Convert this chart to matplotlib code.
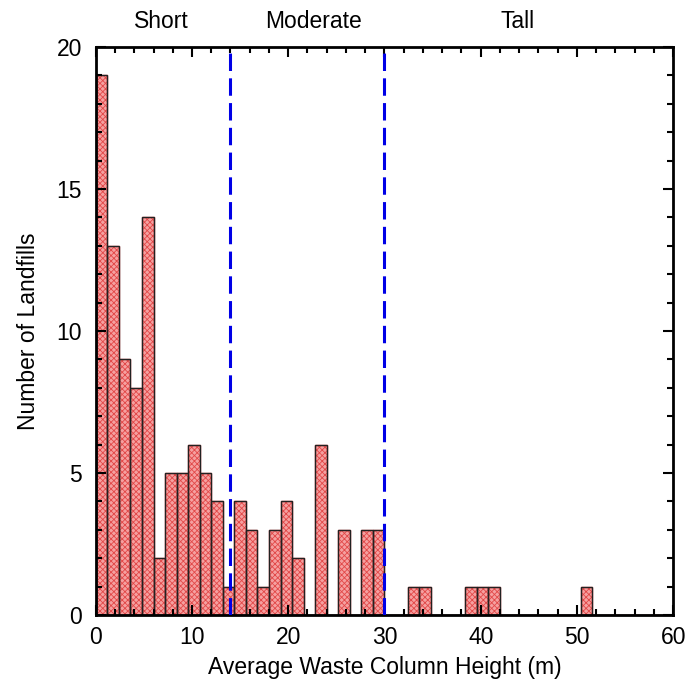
import matplotlib.pyplot as plt
import numpy as np
from matplotlib.ticker import MultipleLocator

plt.rcParams['font.family'] = ['Liberation Sans', 'DejaVu Sans']
plt.rcParams['hatch.linewidth'] = 0.6

# histogram of waste column heights, 1.2 m bins from 0 to 60 m
bin_edges = np.linspace(0, 60, 51)
counts = [19, 13, 9, 8, 14, 2, 5, 5, 6, 5,
          4, 1, 4, 3, 1, 3, 4, 2, 0, 6,
          0, 3, 0, 3, 3, 0, 0, 1, 1, 0,
          0, 0, 1, 1, 1, 0, 0, 0, 0, 0,
          0, 0, 1, 0, 0, 0, 0, 0, 0, 0]
class_bounds = [14, 30]
class_names = ['Short', 'Moderate', 'Tall']
class_label_x = [6.8, 22.6, 43.8]

fs = 16.5

fig = plt.figure(figsize=(6.89, 6.86), dpi=100)
ax = fig.add_axes([0.139, 0.1035, 0.838, 0.828])

ax.bar(bin_edges[:-1], counts, width=np.diff(bin_edges), align='edge',
       color='#f5a0a0', edgecolor='#e24848', linewidth=1.0,
       hatch='xxxxxx')
# hatch colour follows the edge colour, so redraw the outlines on top
ax.bar(bin_edges[:-1], counts, width=np.diff(bin_edges), align='edge',
       fill=False, edgecolor='#222222', linewidth=1.0)

for xb in class_bounds:
    ax.plot([xb, xb], [0, 20], color='#0000e6', linestyle=(0, (5.7, 2.4)),
            linewidth=2.2, zorder=5)

for name, xc in zip(class_names, class_label_x):
    ax.text(xc, 20.5, name, ha='center', va='bottom', fontsize=fs)

ax.set_xlim(0, 60)
ax.set_ylim(0, 20)
ax.xaxis.set_major_locator(MultipleLocator(10))
ax.xaxis.set_minor_locator(MultipleLocator(2))
ax.yaxis.set_major_locator(MultipleLocator(5))
ax.yaxis.set_minor_locator(MultipleLocator(1))
ax.tick_params(which='both', direction='in', top=True, right=True,
               labelsize=fs, width=1.5)
ax.tick_params(which='major', length=7)
ax.tick_params(which='minor', length=4)
ax.tick_params(axis='y', which='major', pad=10)
ax.tick_params(axis='x', which='major', pad=8)
for s in ax.spines.values():
    s.set_linewidth(2)

ax.set_xlabel('Average Waste Column Height (m)', fontsize=fs, labelpad=5)
ax.set_ylabel('Number of Landfills', fontsize=fs, labelpad=12)

fig.savefig('out.png', dpi=100)
